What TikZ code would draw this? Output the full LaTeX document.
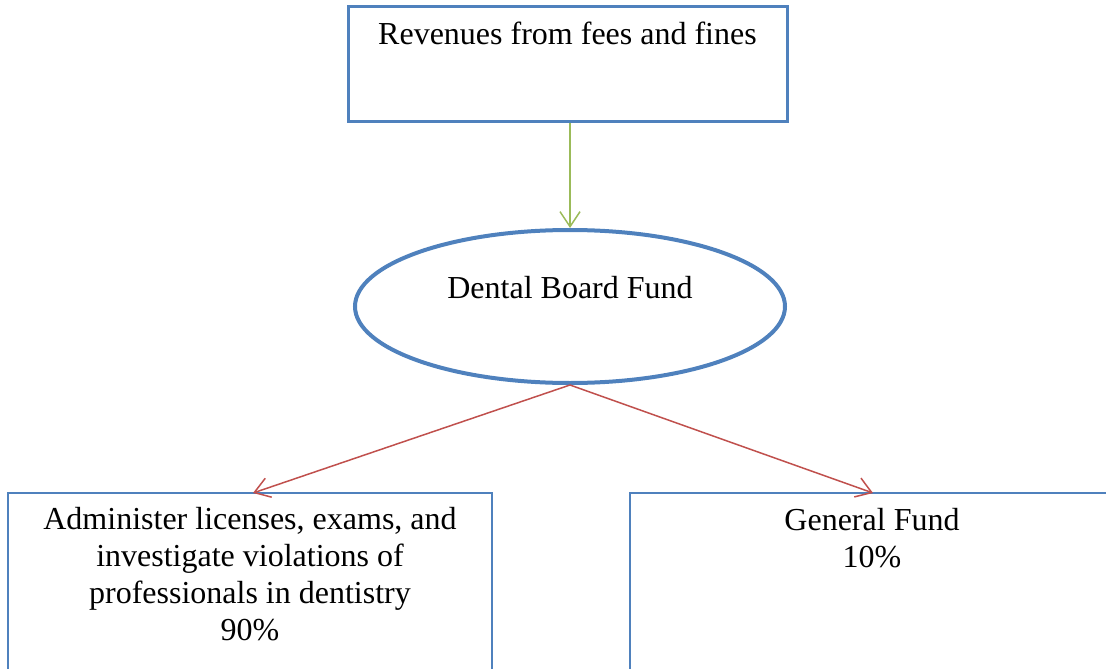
\documentclass[tikz,border=0pt]{standalone}
\usepackage{fontspec}
\setmainfont{Liberation Serif}
\usetikzlibrary{arrows.meta,shapes.geometric}
\definecolor{boxblue}{HTML}{4F81BD}
\definecolor{arrgreen}{HTML}{9BBB59}
\definecolor{arrred}{HTML}{C0504D}
\tikzset{
  box/.style={draw=boxblue, rectangle, inner sep=0pt},
  lbl/.style={anchor=base, align=center, font=\fontsize{32}{37}\selectfont, inner sep=0pt},
  conn/.style={line width=1.5pt, -{Straight Barb[length=15pt,width=20pt,line width=1.5pt]}},
}
\begin{document}
\begin{tikzpicture}[x=1pt,y=-1pt]
\useasboundingbox (0,0) rectangle (1106,669);
\clip (0,0) rectangle (1106,669);
\node[box, line width=3pt, minimum width=439pt, minimum height=114pt] (top) at (567.5,64) {};
\node[lbl] (toptxt) at (567.5,45) {Revenues from fees and fines};
\node[draw=boxblue, ellipse, line width=4pt, inner sep=0pt, minimum width=430pt, minimum height=153pt] (fund) at (570,306.5) {};
\node[lbl] (fundtxt) at (570,298) {Dental Board Fund};
\node[box, line width=2pt, minimum width=484pt, minimum height=240pt] (left) at (250,613) {};
\node[lbl] (lefttxt) at (250,640) {Administer licenses, exams, and\\investigate violations of\\professionals in dentistry\\90\%};
\node[box, line width=2pt, minimum width=520pt, minimum height=240pt] (right) at (890,613) {};
\node[lbl] (righttxt) at (872,567) {General Fund\\10\%};
\coordinate (lin) at (253,493);
\coordinate (rin) at (873,493);
\draw[conn, arrgreen] (top.south -| fund.north) -- (fund.north);
\draw[conn, arrred] (fund.south) -- (lin);
\draw[conn, arrred] (fund.south) -- (rin);
\end{tikzpicture}
\end{document}
